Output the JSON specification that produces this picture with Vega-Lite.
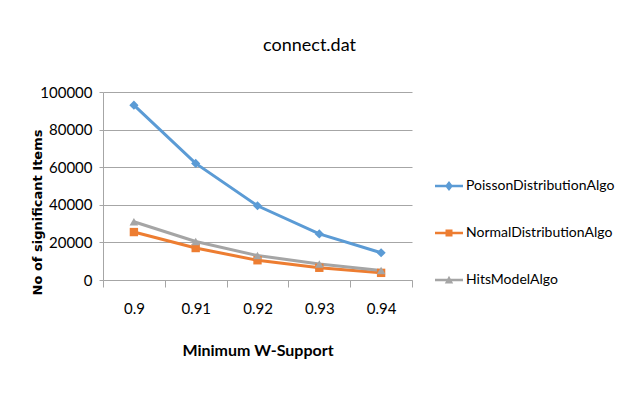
{
  "$schema": "https://vega.github.io/schema/vega-lite/v6.json",
  "autosize": "none",
  "width": 309,
  "height": 188,
  "padding": {"left": 103, "top": 92, "right": 209, "bottom": 119},
  "background": "white",
  "title": {
    "text": "connect.dat",
    "font": "Lato",
    "fontSize": 18,
    "fontWeight": "normal",
    "color": "#000000",
    "anchor": "middle",
    "dx": 52,
    "offset": 30
  },
  "data": {
    "values": [
      {"support": "0.9", "algo": "PoissonDistributionAlgo", "items": 93000},
      {"support": "0.91", "algo": "PoissonDistributionAlgo", "items": 62000},
      {"support": "0.92", "algo": "PoissonDistributionAlgo", "items": 39500},
      {"support": "0.93", "algo": "PoissonDistributionAlgo", "items": 24500},
      {"support": "0.94", "algo": "PoissonDistributionAlgo", "items": 14500},
      {"support": "0.9", "algo": "NormalDistributionAlgo", "items": 25500},
      {"support": "0.91", "algo": "NormalDistributionAlgo", "items": 17000},
      {"support": "0.92", "algo": "NormalDistributionAlgo", "items": 10500},
      {"support": "0.93", "algo": "NormalDistributionAlgo", "items": 6500},
      {"support": "0.94", "algo": "NormalDistributionAlgo", "items": 3800},
      {"support": "0.9", "algo": "HitsModelAlgo", "items": 31000},
      {"support": "0.91", "algo": "HitsModelAlgo", "items": 20500},
      {"support": "0.92", "algo": "HitsModelAlgo", "items": 13000},
      {"support": "0.93", "algo": "HitsModelAlgo", "items": 8500},
      {"support": "0.94", "algo": "HitsModelAlgo", "items": 5000}
    ]
  },
  "encoding": {
    "x": {
      "field": "support",
      "type": "ordinal",
      "sort": null,
      "scale": {"type": "band", "paddingInner": 0, "paddingOuter": 0},
      "axis": {
        "title": "Minimum W-Support",
        "titleFont": "Lato",
        "titleFontSize": 16,
        "titleFontWeight": "bold",
        "titleColor": "#000000",
        "titlePadding": 26,
        "labelFont": "Lato",
        "labelFontSize": 15,
        "labelColor": "#000000",
        "labelAngle": 0,
        "labelPadding": 14,
        "tickBand": "extent",
        "tickSize": 7,
        "tickColor": "#a6a6a6",
        "domainColor": "#a6a6a6",
        "grid": false
      }
    },
    "y": {
      "field": "items",
      "type": "quantitative",
      "scale": {"domain": [0, 100000], "nice": false},
      "axis": {
        "values": [0, 20000, 40000, 60000, 80000, 100000],
        "format": "d",
        "title": "No of significant Items",
        "titleFont": "DejaVu Sans",
        "titleFontSize": 13,
        "titleFontWeight": "bold",
        "titleColor": "#000000",
        "titleAngle": -90,
        "titleX": -66,
        "titleY": 120,
        "titleAlign": "center",
        "titleBaseline": "middle",
        "labelFont": "Lato",
        "labelFontSize": 15,
        "labelColor": "#000000",
        "labelPadding": 7,
        "tickSize": 4,
        "tickColor": "#a6a6a6",
        "domainColor": "#a6a6a6",
        "grid": true,
        "gridColor": "#a6a6a6",
        "gridOpacity": 1
      }
    },
    "color": {
      "field": "algo",
      "type": "nominal",
      "scale": {
        "domain": ["PoissonDistributionAlgo", "NormalDistributionAlgo", "HitsModelAlgo"],
        "range": ["#5B9BD5", "#ED7D31", "#A5A5A5"]
      },
      "legend": {
        "title": null,
        "orient": "none",
        "legendX": 332,
        "legendY": 80,
        "symbolSize": 784,
        "rowPadding": 26,
        "labelOffset": 3,
        "labelFont": "Lato",
        "labelFontSize": 14,
        "labelColor": "#000000",
        "labelLimit": 300,
        "encode": {
          "symbols": {
            "update": {
              "shape": {"signal": "datum.value === 'PoissonDistributionAlgo' ? 'M-1,-0.09H1V0.09H-1Z M0,-0.36L0.28,0L0,0.36L-0.28,0Z' : datum.value === 'NormalDistributionAlgo' ? 'M-1,-0.09H1V0.09H-1Z M-0.25,-0.25H0.25V0.25H-0.25Z' : 'M-1,-0.09H1V0.09H-1Z M0,-0.3L0.3,0.25H-0.3Z'"},
              "fill": {"signal": "datum.value === 'PoissonDistributionAlgo' ? '#5B9BD5' : datum.value === 'NormalDistributionAlgo' ? '#ED7D31' : '#A5A5A5'"},
              "stroke": {"value": "transparent"},
              "strokeWidth": {"value": 0},
              "opacity": {"value": 1}
            }
          }
        }
      }
    }
  },
  "layer": [
    {
      "mark": {"type": "line", "strokeWidth": 3},
      "encoding": {}
    },
    {
      "transform": [{"filter": {"field": "algo", "equal": "PoissonDistributionAlgo"}}],
      "mark": {"type": "point", "filled": true, "opacity": 1, "size": 85, "shape": "diamond"},
      "encoding": {}
    },
    {
      "transform": [{"filter": {"field": "algo", "equal": "NormalDistributionAlgo"}}],
      "mark": {"type": "point", "filled": true, "opacity": 1, "size": 70, "shape": "square"},
      "encoding": {}
    },
    {
      "transform": [{"filter": {"field": "algo", "equal": "HitsModelAlgo"}}],
      "mark": {"type": "point", "filled": true, "opacity": 1, "size": 75, "shape": "triangle-up"},
      "encoding": {}
    }
  ],
  "config": {
    "view": {"stroke": null}
  }
}
